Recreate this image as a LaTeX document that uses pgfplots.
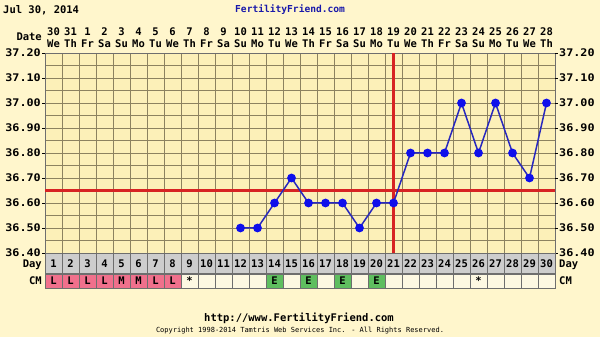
\documentclass[border=0pt]{standalone}
\usepackage{pgfplots}
\pgfplotsset{compat=1.18}
\usepackage{fontspec}
\setmainfont{DejaVu Sans}
\newfontfamily\pix[FakeStretch=1.12]{DejaVu Sans Mono}
\newfontfamily\pixn{DejaVu Sans Mono}
\definecolor{bg}{RGB}{255,246,204}
\definecolor{plotbg}{RGB}{252,240,184}
\definecolor{gridc}{RGB}{140,130,95}
\definecolor{redl}{RGB}{215,35,35}
\definecolor{bluel}{RGB}{40,40,190}
\definecolor{bluem}{RGB}{15,15,235}
\definecolor{dayrow}{RGB}{205,205,205}
\definecolor{pinkc}{RGB}{240,112,140}
\definecolor{greenc}{RGB}{95,190,95}
\definecolor{emptyc}{RGB}{253,248,226}
\definecolor{titleblue}{RGB}{25,25,170}
\definecolor{border}{RGB}{110,110,110}

\pgfplotstableread{
day temp
12 36.50
13 36.50
14 36.60
15 36.70
16 36.60
17 36.60
18 36.60
19 36.50
20 36.60
21 36.60
22 36.80
23 36.80
24 36.80
25 37.00
26 36.80
27 37.00
28 36.80
29 36.70
30 37.00
}\temps

\begin{document}
\begin{tikzpicture}[x=1pt,y=1pt]
\fill[bg] (0,0) rectangle (600,337);
\begin{axis}[
  at={(45pt,84pt)}, anchor=south west,
  scale only axis, width=510pt, height=200pt,
  xmin=0.5, xmax=30.5, ymin=36.4, ymax=37.2,
  axis background/.style={fill=plotbg},
  xtick={1.5,2.5,...,29.5}, xticklabels={},
  xmajorgrids, major x tick style={draw=none},
  ytick={36.4,36.5,...,37.2},
  minor ytick={36.45,36.55,...,37.15},
  ymajorgrids, yminorgrids,
  grid style={gridc, line width=0.9pt},
  minor grid style={gridc, line width=0.9pt},
  major y tick style={black, line width=0.8pt},
  minor y tick style={draw=none},
  tick align=outside, major tick length=3pt,
  ytick pos=left,
  yticklabel style={font=\pix\bfseries\fontsize{10.5}{12}\selectfont, inner sep=1pt},
  /pgf/number format/.cd, fixed, fixed zerofill, precision=2, assume math mode=true,
  /pgfplots/.cd,
  axis line style={border, line width=0.8pt},
  clip=false,
]
\addplot[draw=redl, line width=2.6pt, mark=none, forget plot] coordinates {(0.5,36.65) (30.5,36.65)};
\addplot[draw=redl, line width=2.6pt, mark=none, forget plot] coordinates {(21,36.4) (21,37.2)};
\addplot[bluel, line width=1.5pt, mark=*, mark size=3.6pt,
  mark options={fill=bluem, draw=bluem}] table[x=day,y=temp] {\temps};
\end{axis}
% right y labels
\foreach \v [count=\i from 0] in {36.40,36.50,36.60,36.70,36.80,36.90,37.00,37.10,37.20}
  \node[anchor=west, inner sep=0pt, font=\pix\bfseries\fontsize{10.5}{12}\selectfont] at (559,84+25*\i) {\v};
\foreach \i in {0,...,8} \draw[black, line width=0.8pt] (555,84+25*\i) -- (558,84+25*\i);
% header
\node[anchor=west, inner sep=0pt, font=\pixn\bfseries\fontsize{10.5}{12}\selectfont] at (3,327) {Jul 30, 2014};
\node[anchor=west, inner sep=0pt, font=\pixn\bfseries\fontsize{9.6}{12}\selectfont, text=titleblue] at (235,327) {FertilityFriend.com};
\node[anchor=east, inner sep=0pt, font=\pixn\bfseries\fontsize{10.5}{12}\selectfont] at (42,300) {Date};
\foreach \d/\w [count=\i from 0] in {30/We,31/Th,1/Fr,2/Sa,3/Su,4/Mo,5/Tu,6/We,7/Th,8/Fr,9/Sa,10/Su,11/Mo,12/Tu,13/We,14/Th,15/Fr,16/Sa,17/Su,18/Mo,19/Tu,20/We,21/Th,22/Fr,23/Sa,24/Su,25/Mo,26/Tu,27/We,28/Th} {
  \node[inner sep=0pt, font=\pixn\bfseries\fontsize{10.5}{12}\selectfont] at (53.5+17*\i,305) {\d};
  \node[inner sep=0pt, font=\pixn\bfseries\fontsize{10.5}{12}\selectfont] at (53.5+17*\i,293.5) {\w};
}
% Day row
\foreach \i in {1,...,30} {
  \filldraw[fill=dayrow, draw=border, line width=0.8pt] (45+17*\i-17,84) rectangle (45+17*\i,64);
  \node[inner sep=0pt, font=\pixn\bfseries\fontsize{10.5}{12}\selectfont] at (45+17*\i-8.5,73) {\i};
}
\node[anchor=east, inner sep=0pt, font=\pixn\bfseries\fontsize{10.5}{12}\selectfont] at (42,72) {Day};
\node[anchor=west, inner sep=0pt, font=\pixn\bfseries\fontsize{10.5}{12}\selectfont] at (559,72) {Day};
% CM row
\foreach \c/\t [count=\i] in {pinkc/L,pinkc/L,pinkc/L,pinkc/L,pinkc/M,pinkc/M,pinkc/L,pinkc/L,emptyc/*,emptyc/,emptyc/,emptyc/,emptyc/,greenc/E,emptyc/,greenc/E,emptyc/,greenc/E,emptyc/,greenc/E,emptyc/,emptyc/,emptyc/,emptyc/,emptyc/,emptyc/*,emptyc/,emptyc/,emptyc/,emptyc/} {
  \filldraw[fill=\c, draw=border, line width=0.8pt] (45+17*\i-17,63) rectangle (45+17*\i,49);
  \node[inner sep=0pt, font=\pixn\bfseries\fontsize{10.5}{12}\selectfont] at (45+17*\i-8.5,56) {\t};
}
\node[anchor=east, inner sep=0pt, font=\pixn\bfseries\fontsize{10.5}{12}\selectfont] at (42,56) {CM};
\node[anchor=west, inner sep=0pt, font=\pixn\bfseries\fontsize{10.5}{12}\selectfont] at (559,56) {CM};
% footer
\node[inner sep=0pt, font=\pixn\bfseries\fontsize{10.5}{12}\selectfont] at (299,19) {http://www.FertilityFriend.com};
\node[inner sep=0pt, font=\pixn\fontsize{7}{8}\selectfont] at (300,6) {Copyright 1998-2014 Tamtris Web Services Inc. - All Rights Reserved.};
\end{tikzpicture}
\end{document}
